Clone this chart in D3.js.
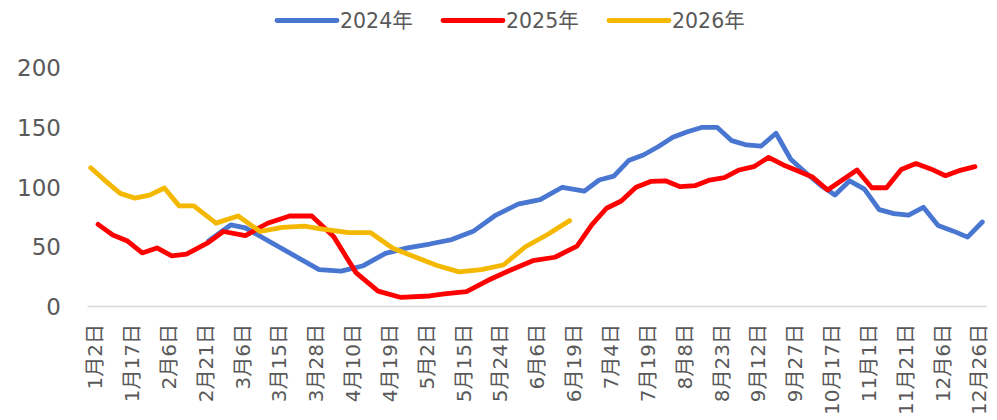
<!DOCTYPE html>
<html>
<head>
<meta charset="utf-8">
<script src="https://cdn.jsdelivr.net/npm/d3@7"></script>
<style>
  body { margin: 0; background: #fff; }
  svg { display: block; }
  text { font-family: "DejaVu Sans", "Noto Sans CJK SC", sans-serif; fill: #595959; }
</style>
</head>
<body>
<svg id="chart" width="997" height="420"></svg>
<script>
// x axis: 122 category slots, one label every 5 slots
var nSlots = 122;
var labelStep = 5;
var xLabels = ["1月2日","1月17日","2月6日","2月21日","3月6日","3月15日","3月28日","4月10日","4月19日",
  "5月2日","5月15日","5月24日","6月6日","6月19日","7月4日","7月19日","8月8日","8月23日","9月12日",
  "9月27日","10月17日","11月1日","11月21日","12月6日","12月26日"];
var yTicks = [0, 50, 100, 150, 200];

var seriesNames = ["2024年", "2025年", "2026年"];
var seriesColors = ["#4876d0", "#ff0000", "#f4b800"];

// [slot, value]
var data2024 = [[16,54.5],[19,68],[21,65.5],[31,30.5],[34,29.2],[37,33.8],[40,44.2],[43,48.8],[46,52],
  [49,55.7],[52,63],[55,76.3],[58,85.5],[61,89.2],[64,99.6],[67,96.3],[69,105.7],[71,109],[73,122],
  [75,126.7],[77,133.6],[79,141.5],[81,146.2],[83,149.9],[85,149.9],[87,138.7],[89,135.1],[91,134.2],
  [93,144.9],[95,123.1],[97,112],[99,101.5],[101,93.1],[103,105],[105,98],[107,80.8],[109,77.5],
  [111,76.3],[113,82.8],[115,67.5],[117,63],[119,57.8],[121,70.5]];
var data2025 = [[1,68.5],[3,59.6],[5,54.5],[7,44.5],[9,48.7],[11,42],[13,43.5],[16,53.4],[18,62.5],
  [21,59],[24,69.4],[27,75.5],[30,75.5],[33,58],[36,28],[39,12.5],[42,7.3],[46,8.4],[48,10.1],[51,12],
  [54,21.8],[57,30.2],[60,38],[63,40.9],[66,50.3],[68,68],[70,82],[72,88.1],[74,99.6],[76,104.5],
  [78,105],[80,100.1],[82,100.9],[84,105.7],[86,107.6],[88,114.1],[90,116.9],[92,124.7],[94,118.3],
  [96,113.3],[98,108],[100,97.3],[102,105.7],[104,114.1],[106,99.2],[108,99.2],[110,114.5],[112,119.5],
  [114,115],[116,109.3],[118,113.8],[120,116.9]];
var data2026 = [[0,116],[2,105],[4,94.5],[6,90.5],[8,93],[10,99],[12,84],[14,84],[17,69.5],[20,75.5],
  [23,62.5],[26,66],[29,67],[31,65],[35,61.5],[38,61.5],[41,48.4],[47,34],[50,28.6],[53,30.5],
  [56,34.4],[59,49.7],[62,60],[65,71.6]];

var allSeries = [data2024, data2025, data2026];

var svg = d3.select("#chart");

var x = d3.scaleLinear().domain([-0.5, nSlots - 0.5]).range([87, 986]);
var y = d3.scaleLinear().domain([0, 200]).range([306, 67.6]);

// y axis labels
var yAxis = svg.append("g")
  .attr("transform", "translate(61,0)")
  .call(d3.axisLeft(y).tickValues(yTicks).tickSize(0).tickPadding(0));
yAxis.select(".domain").remove();
yAxis.selectAll("text")
  .attr("font-size", 23)
  .attr("font-family", null)
  .attr("dy", "0.36em");

// x axis
var xAxis = svg.append("g")
  .attr("transform", "translate(0,306)")
  .call(d3.axisBottom(x)
    .tickValues(d3.range(0, nSlots, labelStep))
    .tickFormat(function(d) { return xLabels[d / labelStep]; })
    .tickSize(0));
xAxis.select(".domain")
  .attr("stroke", "#d9d9d9")
  .attr("stroke-width", 1.5);
xAxis.selectAll("text")
  .attr("font-size", 20)
  .attr("font-family", null)
  .attr("text-anchor", "end")
  .attr("dominant-baseline", "central")
  .attr("y", 0)
  .attr("dy", null)
  .attr("transform", "translate(4,18) rotate(-90)");

// lines
var line = d3.line()
  .x(function(d) { return x(d[0]); })
  .y(function(d) { return y(d[1]); });

svg.append("g").selectAll("path")
  .data(allSeries)
  .enter().append("path")
    .attr("d", line)
    .attr("fill", "none")
    .attr("stroke", function(d, i) { return seriesColors[i]; })
    .attr("stroke-width", 4.8)
    .attr("stroke-linejoin", "round")
    .attr("stroke-linecap", "round");

// legend
var legend = svg.append("g").selectAll("g")
  .data(seriesNames)
  .enter().append("g")
    .attr("transform", function(d, i) { return "translate(" + (277 + i * 166) + ",20.5)"; });
legend.append("line")
  .attr("x1", 0).attr("x2", 60)
  .attr("stroke", function(d, i) { return seriesColors[i]; })
  .attr("stroke-width", 4.8)
  .attr("stroke-linecap", "round");
legend.append("text")
  .attr("x", 63)
  .attr("dy", "0.36em")
  .attr("font-size", 20.5)
  .text(function(d) { return d; });
</script>
</body>
</html>
